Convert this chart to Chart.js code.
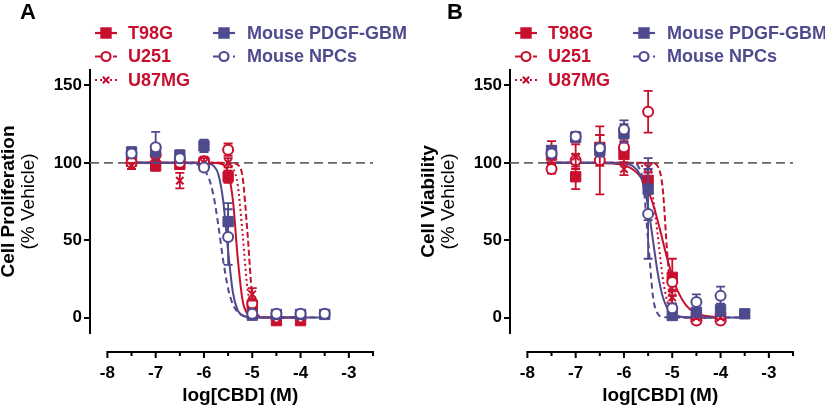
<!DOCTYPE html>
<html lang="en">
<head>
<meta charset="UTF-8">
<title>CBD dose response</title>
<script src="https://cdn.jsdelivr.net/npm/chart.js@4.4.1/dist/chart.umd.min.js"></script>
<style>
    body { margin: 0; background: #fff; }
    .panel { position: absolute; top: 0; }
    #panelA { left: 0; }
    #panelB { left: 420px; }
</style>
</head>
<body>
<canvas id="panelA" class="panel" width="420" height="407"></canvas>
<canvas id="panelB" class="panel" width="405" height="407"></canvas>
<script>
const RED = '#c8102e';
const PURPLE = '#4e4a8e';

// log[CBD] (M) doses
const X_HUMAN = [-7.5, -7, -6.5, -6, -5.5, -5, -4.5, -4];
const X_MOUSE = [-7.5, -7, -6.5, -6, -5.5, -5, -4.5, -4, -3.5];
const X_TICKS = [-8, -7, -6, -5, -4, -3];
const Y_TICKS = [0, 50, 100, 150];
const X_MIN = -8.36, X_MAX = -2.5;

// A: cell proliferation, mean and SEM
const A_T98G = [101, 98, 99, 100, 91, 8, -2, -2];
const A_T98G_SEM = [3, 3, 3, 3, 4, 2, 1, 1];
const A_U251 = [100, 105, 100, 101, 108.5, 9, 0, 0];
const A_U251_SEM = [2, 4, 3, 3, 4, 3, 1, 1];
const A_U87MG = [98, 100, 88.5, 100, 100, 15, 0, 0];
const A_U87MG_SEM = [2, 3, 5, 3, 3, 4, 1, 1];
const A_GBM = [107, 108, 105, 111, 62, 1.5, 2, 2, 2];
const A_GBM_SEM = [3, 4, 3, 4, 12, 1, 1, 1, 1];
const A_NPC = [106, 110, 103, 97, 52, 2.5, 2.5, 2.5, 2.5];
const A_NPC_SEM = [2, 10, 3, 2, 18, 1, 1, 1, 1];

// B: cell viability
const B_T98G = [105, 91, 110, 105.5, 88.7, 26, 0, 0];
const B_T98G_SEM = [9, 8, 8, 5, 5, 12, 1, 1];
const B_U251 = [96, 101.6, 101.6, 110, 133, 23, -2, -2];
const B_U251_SEM = [3, 4, 22, 4, 13.5, 5, 2, 2];
const B_U87MG = [104, 104, 108, 96, 97, 13, 0, 0];
const B_U87MG_SEM = [4, 8, 10, 4, 3, 4, 1, 1];
const B_GBM = [108, 116.5, 108, 119, 83, 1.3, 3.4, 5, 2.4];
const B_GBM_SEM = [3, 3, 4, 6, 20, 1, 2, 4, 1];
const B_NPC = [106, 117, 109.5, 121.5, 67, 6, 10, 14];
const B_NPC_SEM = [3, 3, 3, 6, 29, 3, 5, 6];

// fitted curves at these doses
const CURVE_X = [-7.6, -6.4, -6.1, -5.9, -5.8, -5.7, -5.6, -5.5, -5.4, -5.3, -5.2, -5.1, -5.0, -4.9, -4.7, -4.4, -3.9, -3.4];
const A_T98G_FIT = [100, 100, 100, 100, 99.9, 99.7, 98.7, 93.9, 75.5, 38.1, 11, 2.4, 0.5, 0.1, 0, 0, 0];
const A_U251_FIT = [100, 100, 100, 100, 100, 100, 100, 99.9, 99.8, 98.7, 90.7, 55, 13.4, 1.9, 0, 0, 0];
const A_U87MG_FIT = [100, 100, 100, 100, 100, 100, 99.9, 99.3, 96.7, 85.5, 54, 19, 4.5, 0.9, 0, 0, 0];
const A_GBM_FIT = [100, 100, 100, 99.5, 98, 92.3, 75, 43, 16, 4.6, 1.2, 0.3, 0.1, 0, 0, 0, 0, 0];
const A_NPC_FIT = [100, 99.9, 98.3, 90.1, 78.4, 59.1, 36.5, 18.6, 8.4, 3.5, 1.4, 0.6, 0.2, 0.1, 0, 0, 0, 0];
const B_T98G_FIT = [100, 99.8, 99, 97.2, 95.4, 92.6, 88.4, 82, 73.4, 62.4, 50, 37.6, 26.6, 18, 7.4, 1.7, 0.1];
const B_U251_FIT = [100, 100, 100, 100, 100, 100, 100, 99.9, 99.7, 97.7, 84, 39.8, 7.7, 1, 0, 0, 0];
const B_U87MG_FIT = [100, 100, 100, 99.9, 99.7, 99.1, 97.3, 91.8, 78, 53, 26.2, 10.1, 3.4, 1.1, 0.1, 0, 0];
const B_GBM_FIT = [100, 100, 99.8, 99, 97.5, 94.1, 86.3, 71.5, 50, 28.5, 13.7, 5.9, 2.4, 1, 0.2, 0, 0, 0];
const B_NPC_FIT = [100, 100, 100, 99.9, 99.6, 97.5, 86.3, 50, 13.7, 2.4, 0.4, 0.1, 0, 0, 0, 0, 0, 0];

const FONT = 'Liberation Sans, Arial, Helvetica, sans-serif';
Chart.defaults.font.family = FONT;
Chart.defaults.color = '#000';

const LEGEND = [
    { text: 'T98G', color: RED, style: 'rect', dash: [], col: 0, row: 0 },
    { text: 'U251', color: RED, style: 'circle', dash: [6, 3], col: 0, row: 1 },
    { text: 'U87MG', color: RED, style: 'crossRot', dash: [2, 3], col: 0, row: 2 },
    { text: 'Mouse PDGF-GBM', color: PURPLE, style: 'rect', dash: [], col: 1, row: 0 },
    { text: 'Mouse NPCs', color: PURPLE, style: 'circle', dash: [6, 4], col: 1, row: 1 }
];

function pts(xs, ys) {
    return ys.map((y, i) => ({ x: xs[i], y: y }));
}

function markerRadius(style) {
    if (style === 'rect') return 7.3;
    if (style === 'crossRot') return 5.2;
    return 5;
}

function pointSet(xs, ys, sem, color, style, order) {
    return {
        data: pts(xs, ys),
        sem: sem,
        showLine: false,
        order: order,
        pointStyle: style,
        pointRadius: markerRadius(style),
        pointBackgroundColor: style === 'circle' ? '#fff' : color,
        pointBorderColor: color,
        pointBorderWidth: style === 'rect' ? 1 : 2,
        borderColor: color,
        backgroundColor: color
    };
}

function fitSet(ys, color, dash, order) {
    return {
        data: pts(CURVE_X, ys),
        showLine: true,
        pointRadius: 0,
        borderColor: color,
        borderWidth: 2,
        borderDash: dash,
        cubicInterpolationMode: 'monotone',
        order: order
    };
}

const decor = {
    id: 'decor',
    beforeDatasetDraw(chart, args) {
        const ds = chart.data.datasets[args.index];
        if (!ds.sem) return;
        const ctx = chart.ctx, xs = chart.scales.x, ys = chart.scales.y;
        ctx.save();
        ctx.strokeStyle = ds.borderColor;
        ctx.lineWidth = 1.8;
        ctx.beginPath();
        ds.data.forEach((p, i) => {
            const px = xs.getPixelForValue(p.x);
            const top = ys.getPixelForValue(p.y + ds.sem[i]);
            const bot = ys.getPixelForValue(p.y - ds.sem[i]);
            ctx.moveTo(px, top); ctx.lineTo(px, bot);
            ctx.moveTo(px - 4.5, top); ctx.lineTo(px + 4.5, top);
            ctx.moveTo(px - 4.5, bot); ctx.lineTo(px + 4.5, bot);
        });
        ctx.stroke();
        ctx.restore();
    },
    afterDraw(chart, args, opts) {
        const ctx = chart.ctx, ca = chart.chartArea, xs = chart.scales.x;
        ctx.save();

        // detached x axis, ticks every half log unit
        const y0 = ca.bottom + 19;
        const x0 = xs.getPixelForValue(-8), x1 = xs.getPixelForValue(X_MAX);
        ctx.strokeStyle = '#000';
        ctx.lineWidth = 2;
        ctx.beginPath();
        ctx.moveTo(x0 - 1, y0);
        ctx.lineTo(x1 + 1, y0);
        for (let k = 0; k <= 11; k++) {
            const v = -8 + k * 0.5;
            const px = xs.getPixelForValue(v);
            ctx.moveTo(px, y0);
            ctx.lineTo(px, y0 + (k % 2 === 0 ? 6 : 4));
        }
        ctx.stroke();

        ctx.fillStyle = '#000';
        ctx.textAlign = 'center';
        ctx.textBaseline = 'middle';
        ctx.font = 'bold 19px ' + FONT;
        ctx.fillText('log[CBD] (M)', (x0 + x1) / 2, 396);

        // y title, two lines
        ctx.save();
        ctx.translate(9, (ca.top + ca.bottom) / 2);
        ctx.rotate(-Math.PI / 2);
        ctx.fillText(opts.yTitle, 0, 0);
        ctx.font = '19px ' + FONT;
        ctx.fillText('(% Vehicle)', 0, 20);
        ctx.restore();

        // panel letter
        ctx.textAlign = 'left';
        ctx.font = 'bold 22px ' + FONT;
        ctx.fillText(opts.letter, opts.letterX, 13);

        // legend
        const symX = [95, 213], textX = [128, 247], rowY = [33, 56.5, 80];
        LEGEND.forEach(item => {
            const sx = symX[item.col], yy = rowY[item.row];
            ctx.strokeStyle = item.color;
            ctx.lineWidth = 2.2;
            ctx.setLineDash(item.dash);
            ctx.beginPath();
            ctx.moveTo(sx, yy);
            ctx.lineTo(sx + 22, yy);
            ctx.stroke();
            ctx.setLineDash([]);
            ctx.fillStyle = item.style === 'circle' ? '#fff' : item.color;
            Chart.helpers.drawPoint(ctx, {
                pointStyle: item.style,
                radius: item.style === 'rect' ? 6.5 : 4.5,
                borderWidth: 2,
                rotation: 0
            }, sx + 11, yy);
            ctx.fillStyle = item.color;
            ctx.font = 'bold 18px ' + FONT;
            ctx.textBaseline = 'middle';
            ctx.fillText(item.text, textX[item.col], yy + 1);
        });
        ctx.restore();
    }
};

function buildPanel(id, width, d, yTitle, letter, letterX) {
    const datasets = [
        pointSet(X_MOUSE.slice(0, d.npc.length), d.npc, d.npcSem, PURPLE, 'circle', 1),
        pointSet(X_MOUSE, d.gbm, d.gbmSem, PURPLE, 'rect', 2),
        pointSet(X_HUMAN, d.u87, d.u87Sem, RED, 'crossRot', 3),
        pointSet(X_HUMAN, d.u251, d.u251Sem, RED, 'circle', 4),
        pointSet(X_HUMAN, d.t98g, d.t98gSem, RED, 'rect', 5),
        fitSet(d.gbmFit, PURPLE, [], 6),
        fitSet(d.npcFit, PURPLE, [6, 4], 7),
        fitSet(d.t98gFit, RED, [], 8),
        fitSet(d.u251Fit, RED, [6, 3], 9),
        fitSet(d.u87Fit, RED, [2, 3], 10),
        {
            data: [{ x: X_MIN, y: 100 }, { x: X_MAX, y: 100 }],
            showLine: true, pointRadius: 0, borderColor: '#666666',
            borderWidth: 1.8, borderDash: [9, 5], order: 11
        }
    ];
    return new Chart(document.getElementById(id), {
        type: 'scatter',
        data: { datasets: datasets },
        plugins: [decor],
        options: {
            responsive: false,
            animation: false,
            devicePixelRatio: 1,
            events: [],
            layout: { padding: { top: 70, right: width - 373, left: 0, bottom: 0 } },
            plugins: {
                legend: { display: false },
                tooltip: { enabled: false },
                decor: { yTitle: yTitle, letter: letter, letterX: letterX }
            },
            scales: {
                x: {
                    type: 'linear', min: X_MIN, max: X_MAX,
                    afterBuildTicks: s => { s.ticks = X_TICKS.map(v => ({ value: v })); },
                    afterFit: s => { s.height = 74; },
                    grid: { display: false },
                    border: { display: false },
                    ticks: { font: { size: 17, weight: 'bold' }, padding: 22, maxRotation: 0 }
                },
                y: {
                    min: -10, max: 160,
                    afterBuildTicks: s => { s.ticks = Y_TICKS.map(v => ({ value: v })); },
                    afterFit: s => { s.width = 90; },
                    grid: { drawOnChartArea: false, tickLength: 6, color: '#000', lineWidth: 2 },
                    border: { color: '#000', width: 2 },
                    ticks: { font: { size: 17, weight: 'bold' }, padding: 2 }
                }
            }
        }
    });
}

buildPanel('panelA', 420, {
    t98g: A_T98G, t98gSem: A_T98G_SEM, u251: A_U251, u251Sem: A_U251_SEM,
    u87: A_U87MG, u87Sem: A_U87MG_SEM, gbm: A_GBM, gbmSem: A_GBM_SEM,
    npc: A_NPC, npcSem: A_NPC_SEM,
    t98gFit: A_T98G_FIT, u251Fit: A_U251_FIT, u87Fit: A_U87MG_FIT,
    gbmFit: A_GBM_FIT, npcFit: A_NPC_FIT
}, 'Cell Proliferation', 'A', 20);

buildPanel('panelB', 405, {
    t98g: B_T98G, t98gSem: B_T98G_SEM, u251: B_U251, u251Sem: B_U251_SEM,
    u87: B_U87MG, u87Sem: B_U87MG_SEM, gbm: B_GBM, gbmSem: B_GBM_SEM,
    npc: B_NPC, npcSem: B_NPC_SEM,
    t98gFit: B_T98G_FIT, u251Fit: B_U251_FIT, u87Fit: B_U87MG_FIT,
    gbmFit: B_GBM_FIT, npcFit: B_NPC_FIT
}, 'Cell Viability', 'B', 27);
</script>
</body>
</html>
